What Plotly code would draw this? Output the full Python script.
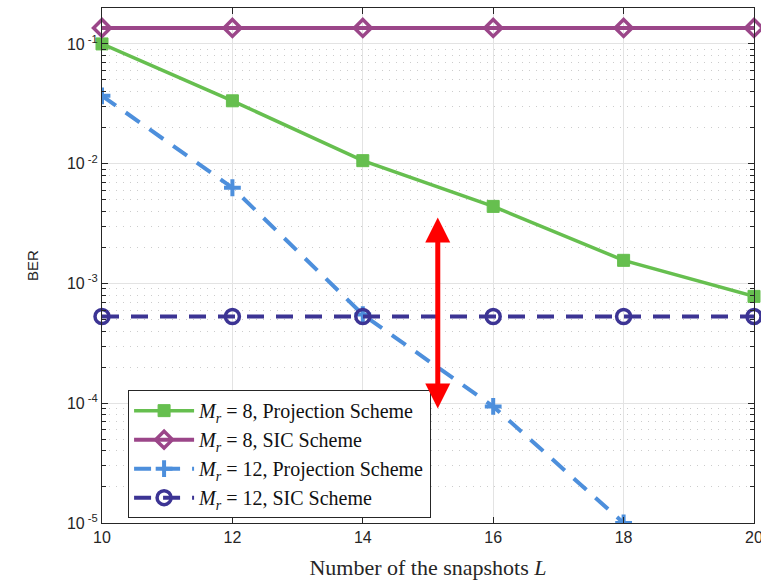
import math
import plotly.graph_objects as go

# Snapshot counts on the x axis
snapshots = [10, 12, 14, 16, 18, 20]

# BER curves
ber_proj_m8 = [0.1, 0.0335, 0.0106, 0.0044, 0.00156, 0.00078]
ber_sic_m8 = [0.136, 0.136, 0.136, 0.136, 0.136, 0.136]
ber_proj_m12 = [0.0369, 0.0063, 0.00055, 9.4e-5, 1.0e-5, 3.0e-7]
ber_sic_m12 = [0.00053, 0.00053, 0.00053, 0.00053, 0.00053, 0.00053]

# Vertical gap indicator (x position, upper and lower BER)
gap_x = 15.15
gap_top = 0.00355
gap_bottom = 8.8e-5

# Axis ticks
ytick_vals = [1e-5, 1e-4, 1e-3, 1e-2, 1e-1]
ytick_text = ["10<sup> -5</sup>", "10<sup> -4</sup>", "10<sup> -3</sup>",
              "10<sup> -2</sup>", "10<sup> -1</sup>"]
xtick_vals = [10, 12, 14, 16, 18, 20]

legend_names = [
    "<i>M</i><sub><i>r</i></sub> = 8, Projection Scheme",
    "<i>M</i><sub><i>r</i></sub> = 8, SIC Scheme",
    "<i>M</i><sub><i>r</i></sub> = 12, Projection Scheme",
    "<i>M</i><sub><i>r</i></sub> = 12, SIC Scheme",
]

GREEN = "#66bf4f"
PURPLE = "#9b4689"
LIGHTBLUE = "#4d8fdc"
DARKBLUE = "#3c3494"

minor_vals = [m * 10.0 ** e for e in range(-5, 0) for m in range(2, 10)]

fig = go.Figure()

fig.add_trace(go.Scatter(
    x=snapshots, y=ber_proj_m8, name=legend_names[0], mode="lines+markers",
    line=dict(color=GREEN, width=3.5),
    marker=dict(symbol="square", size=12, color=GREEN,
                line=dict(color=GREEN, width=1)),
    cliponaxis=False,
))
fig.add_trace(go.Scatter(
    x=snapshots, y=ber_sic_m8, name=legend_names[1], mode="lines+markers",
    line=dict(color=PURPLE, width=4),
    marker=dict(symbol="diamond-open", size=13, color=PURPLE,
                line=dict(color=PURPLE, width=3.5)),
    cliponaxis=False,
))
fig.add_trace(go.Scatter(
    x=snapshots, y=ber_proj_m12, name=legend_names[2], mode="lines+markers",
    line=dict(color=LIGHTBLUE, width=4, dash="17px,12px"),
    marker=dict(symbol="cross-thin-open", size=12, color=LIGHTBLUE,
                line=dict(color=LIGHTBLUE, width=4)),
))
fig.add_trace(go.Scatter(
    x=snapshots, y=ber_sic_m12, name=legend_names[3], mode="lines+markers",
    line=dict(color=DARKBLUE, width=4, dash="17px,12px"),
    marker=dict(symbol="circle-open", size=14, color=DARKBLUE,
                line=dict(color=DARKBLUE, width=3.5)),
    cliponaxis=False,
))

fig.add_annotation(
    x=gap_x, y=math.log10(gap_top),
    ax=gap_x, ay=math.log10(gap_bottom),
    xref="x", yref="y", axref="x", ayref="y",
    text="", showarrow=True, arrowhead=2, arrowside="end+start",
    arrowsize=1.0, arrowwidth=5, arrowcolor="#ff0000",
)

axis_font = dict(family="Liberation Sans, Arial, sans-serif", size=16, color="#262626")

fig.update_xaxes(
    range=[10, 20], tickvals=xtick_vals, ticks="inside", ticklen=6,
    tickcolor="#262626", tickfont=axis_font, ticklabeloverflow="allow",
    automargin=False,
    showline=True, linecolor="#262626", linewidth=1, mirror="ticks",
    showgrid=True, gridcolor="#e3e3e3", gridwidth=1, zeroline=False,
    title=dict(text="Number of the snapshots <i>L</i>",
               font=dict(family="Liberation Serif, Times New Roman, serif",
                         size=22, color="#262626"),
               standoff=14),
)
fig.update_yaxes(
    type="log", range=[-5, -0.7], tickvals=ytick_vals, ticktext=ytick_text,
    ticks="inside", ticklen=6, tickcolor="#262626", tickfont=axis_font,
    automargin=False,
    showline=True, linecolor="#262626", linewidth=1, mirror="ticks",
    showgrid=True, gridcolor="#e3e3e3", gridwidth=1, zeroline=False,
    minor=dict(tickvals=minor_vals, ticks="inside", ticklen=4,
               tickcolor="#262626", showgrid=True, gridcolor="#cccccc",
               griddash="1px,6px", gridwidth=1),
    title=dict(text="BER", font=dict(family="Liberation Sans, Arial, sans-serif",
                                     size=15, color="#262626"),
               standoff=24),
)

fig.update_layout(
    width=761, height=581,
    margin=dict(l=102, r=7, t=8, b=58),
    paper_bgcolor="white", plot_bgcolor="white",
    showlegend=True,
    legend=dict(
        x=0.04, y=0.258, xanchor="left", yanchor="top",
        bgcolor="white", bordercolor="#262626", borderwidth=1,
        font=dict(family="Liberation Serif, Times New Roman, serif",
                  size=20, color="#111111"),
        tracegroupgap=0, itemwidth=60,
    ),
)

fig.write_html("out.html")
